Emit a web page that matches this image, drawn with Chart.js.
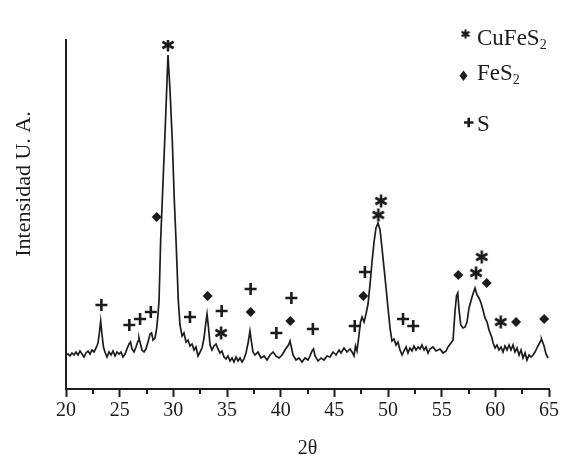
<!DOCTYPE html>
<html>
<head>
<meta charset="utf-8">
<script src="https://cdn.jsdelivr.net/npm/chart.js@4.4.1/dist/chart.umd.min.js"></script>
<style>
html, body { margin: 0; padding: 0; background: #fff; }
#grafica { display: block; }
</style>
</head>
<body>
<canvas id="grafica" width="562" height="458"></canvas>
<script>
const colorTinta = "#1c1c1c";
const fuente = "'Liberation Serif', 'Times New Roman', serif";

// difractograma: 2θ (grados) e intensidad (u. a.)
const dosTheta = [
    20.00, 20.19, 20.37, 20.56, 20.75, 20.93, 21.12, 21.30, 21.49, 21.68, 21.86, 22.05, 22.24, 22.42, 22.61, 22.80, 22.98,
    23.12, 23.23, 23.35, 23.49, 23.63, 23.82, 24.01, 24.19, 24.38, 24.57, 24.75, 24.94, 25.12, 25.31, 25.50, 25.68, 25.87,
    26.01, 26.15, 26.34, 26.52, 26.71, 26.80, 26.94, 27.08, 27.27, 27.45, 27.64, 27.83, 27.97, 28.11, 28.29, 28.43, 28.57,
    28.67, 28.82, 28.97, 29.20, 29.38, 29.50, 29.69, 29.90, 30.09, 30.25, 30.46, 30.62, 30.81, 30.99, 31.18, 31.37, 31.55,
    31.74, 31.93, 32.11, 32.30, 32.49, 32.67, 32.86, 33.00, 33.14, 33.28, 33.42, 33.60, 33.79, 33.98, 34.16, 34.35, 34.53,
    34.72, 34.91, 35.09, 35.28, 35.47, 35.65, 35.84, 36.03, 36.21, 36.40, 36.58, 36.77, 36.98, 37.14, 37.28, 37.42, 37.61,
    37.89, 38.17, 38.45, 38.73, 39.01, 39.29, 39.57, 39.85, 40.13, 40.40, 40.59, 40.73, 40.87, 41.01, 41.15, 41.43, 41.71,
    41.99, 42.27, 42.55, 42.73, 42.92, 43.06, 43.20, 43.48, 43.76, 44.04, 44.32, 44.60, 44.88, 45.16, 45.44, 45.62, 45.90,
    46.18, 46.46, 46.65, 46.83, 46.97, 47.11, 47.30, 47.44, 47.58, 47.77, 47.95, 48.14, 48.32, 48.51, 48.70, 48.88, 49.07,
    49.26, 49.44, 49.63, 49.82, 50.00, 50.19, 50.37, 50.56, 50.75, 50.93, 51.12, 51.31, 51.49, 51.68, 51.86, 52.05, 52.24,
    52.42, 52.61, 52.80, 52.98, 53.17, 53.36, 53.54, 53.73, 53.91, 54.19, 54.47, 54.85, 55.13, 55.41, 55.59, 55.87, 56.06,
    56.24, 56.38, 56.50, 56.62, 56.78, 56.99, 57.18, 57.36, 57.55, 57.83, 58.01, 58.11, 58.29, 58.48, 58.67, 58.85, 59.04,
    59.23, 59.41, 59.66, 59.79, 59.97, 60.16, 60.34, 60.53, 60.72, 60.90, 61.09, 61.28, 61.46, 61.65, 61.83, 62.02, 62.21,
    62.39, 62.58, 62.77, 62.95, 63.14, 63.32, 63.51, 63.70, 63.88, 64.07, 64.26, 64.30, 64.54, 64.72, 64.91
];
const intensidad = [
    34, 35, 33, 36, 34, 37, 34, 38, 35, 32, 36, 38, 35, 39, 37, 41, 46,
    57, 68, 55, 42, 37, 32, 37, 34, 38, 33, 37, 35, 37, 32, 35, 40, 45,
    47, 40, 37, 42, 48, 51, 45, 39, 37, 40, 47, 55, 56, 49, 51, 59, 74,
    89, 149, 189, 249, 299, 334, 299, 249, 189, 149, 89, 64, 53, 56, 47, 49, 43,
    45, 39, 42, 33, 37, 41, 51, 64, 75, 61, 44, 39, 43, 45, 40, 36, 38,
    32, 30, 33, 28, 31, 27, 32, 28, 31, 27, 30, 36, 47, 58, 47, 37, 34,
    37, 31, 33, 29, 34, 37, 33, 31, 34, 39, 42, 44, 48, 41, 34, 29, 31,
    27, 31, 29, 33, 38, 40, 33, 28, 31, 29, 33, 32, 37, 34, 39, 36, 41,
    37, 40, 37, 33, 43, 38, 54, 67, 72, 67, 75, 85, 104, 127, 147, 161, 166,
    159, 141, 121, 101, 81, 61, 48, 50, 44, 47, 39, 34, 38, 42, 36, 41, 38,
    43, 39, 42, 40, 44, 39, 42, 36, 40, 42, 38, 40, 36, 38, 42, 46, 49,
    77, 93, 96, 79, 64, 61, 62, 67, 81, 92, 98, 101, 94, 91, 86, 79, 71,
    67, 59, 52, 46, 41, 44, 39, 42, 37, 43, 39, 44, 39, 44, 37, 41, 34,
    39, 31, 36, 29, 34, 32, 34, 37, 41, 45, 49, 50, 43, 35, 31
];

// fases identificadas (posición 2θ y altura de la marca)
const cuFeS2X = [29.5, 34.45, 49.1, 49.35, 58.2, 58.73, 60.5];
const cuFeS2Y = [344, 56, 174, 188, 116, 132, 67];
const feS2X = [28.45, 33.2, 37.2, 40.9, 47.7, 56.55, 59.2, 61.93, 64.55];
const feS2Y = [172, 93, 77, 68, 93, 114, 106, 67, 70];
const azufreX = [23.3, 25.9, 26.9, 27.9, 31.55, 34.5, 37.2, 39.6, 41.0, 43.0, 46.9, 47.85, 51.4, 52.35];
const azufreY = [84, 64, 70, 77, 72, 78, 100, 56, 91, 60, 63, 117, 70, 63];

const etiquetasX = [20, 25, 30, 35, 40, 45, 50, 55, 60, 65];
const ticksMenores = [22.5, 27.5, 32.5, 37.5, 42.5, 47.5, 52.5, 57.5, 62.5];
const nombresFases = ["CuFeS", "FeS", "S"];
const subindicesFases = ["2", "2", ""];

function puntos(xs, ys) {
    return xs.map((x, i) => ({ x, y: ys[i] }));
}

function crearAsterisco(tam, grosor) {
    const lienzo = document.createElement("canvas");
    lienzo.width = tam;
    lienzo.height = tam;
    const ctx = lienzo.getContext("2d");
    ctx.strokeStyle = colorTinta;
    ctx.lineWidth = grosor;
    ctx.translate(tam / 2, tam / 2);
    const r = tam / 2 - 0.5;
    for (let i = 0; i < 3; i++) {
        const a = Math.PI / 2 + i * Math.PI / 3;
        ctx.beginPath();
        ctx.moveTo(Math.cos(a) * r, Math.sin(a) * r);
        ctx.lineTo(-Math.cos(a) * r, -Math.sin(a) * r);
        ctx.stroke();
    }
    return lienzo;
}

const asterisco = crearAsterisco(14, 2.6);
const asteriscoLeyenda = crearAsterisco(10, 2.2);

const marcasMenores = {
    id: "marcasMenores",
    afterDraw(chart) {
        const escala = chart.scales.x;
        const ctx = chart.ctx;
        ctx.save();
        ctx.strokeStyle = colorTinta;
        ctx.lineWidth = 2;
        ticksMenores.forEach(valor => {
            const px = Math.round(escala.getPixelForValue(valor));
            ctx.beginPath();
            ctx.moveTo(px, escala.top);
            ctx.lineTo(px, escala.top + 5);
            ctx.stroke();
        });
        ctx.restore();
    }
};

const tituloEjeY = {
    id: "tituloEjeY",
    afterDraw(chart) {
        const ctx = chart.ctx;
        ctx.save();
        ctx.translate(30, 184);
        ctx.rotate(-Math.PI / 2);
        ctx.font = `22px ${fuente}`;
        ctx.fillStyle = colorTinta;
        ctx.textAlign = "center";
        ctx.textBaseline = "alphabetic";
        ctx.fillText("Intensidad U. A.", 0, 0);
        ctx.restore();
    }
};

const leyendaFases = {
    id: "leyendaFases",
    afterDraw(chart) {
        const ctx = chart.ctx;
        ctx.save();
        ctx.fillStyle = colorTinta;
        ctx.strokeStyle = colorTinta;

        ctx.drawImage(asteriscoLeyenda, 465.5 - 5, 34 - 5);

        ctx.beginPath();
        ctx.moveTo(463.5, 70.5);
        ctx.lineTo(467.5, 75.8);
        ctx.lineTo(463.5, 81);
        ctx.lineTo(459.5, 75.8);
        ctx.closePath();
        ctx.fill();

        ctx.lineWidth = 2.6;
        ctx.beginPath();
        ctx.moveTo(464, 122.5);
        ctx.lineTo(473.5, 122.5);
        ctx.moveTo(468.7, 117.7);
        ctx.lineTo(468.7, 127.3);
        ctx.stroke();

        const lineas = [45, 80, 131];
        nombresFases.forEach((nombre, i) => {
            ctx.font = `23px ${fuente}`;
            ctx.textBaseline = "alphabetic";
            ctx.fillText(nombre, 477, lineas[i]);
            if (subindicesFases[i]) {
                const ancho = ctx.measureText(nombre).width;
                ctx.font = `14px ${fuente}`;
                ctx.fillText(subindicesFases[i], 477 + ancho, lineas[i] + 4);
            }
        });
        ctx.restore();
    }
};

new Chart(document.getElementById("grafica"), {
    type: "line",
    data: {
        datasets: [
            {
                label: "Difractograma",
                data: puntos(dosTheta, intensidad),
                borderColor: colorTinta,
                borderWidth: 1.7,
                pointRadius: 0,
                tension: 0,
                order: 2
            },
            {
                type: "scatter",
                label: "CuFeS2",
                data: puntos(cuFeS2X, cuFeS2Y),
                pointStyle: asterisco,
                pointRadius: 6,
                order: 1
            },
            {
                type: "scatter",
                label: "FeS2",
                data: puntos(feS2X, feS2Y),
                pointStyle: "rectRot",
                pointRadius: 5,
                backgroundColor: colorTinta,
                borderColor: colorTinta,
                borderWidth: 0,
                order: 1
            },
            {
                type: "scatter",
                label: "S",
                data: puntos(azufreX, azufreY),
                pointStyle: "cross",
                pointRadius: 6,
                borderColor: colorTinta,
                borderWidth: 2.6,
                order: 1
            }
        ]
    },
    options: {
        responsive: false,
        animation: false,
        events: [],
        layout: { padding: { top: 40, right: 13, left: 0, bottom: 0 } },
        plugins: { legend: { display: false }, tooltip: { enabled: false } },
        scales: {
            x: {
                type: "linear",
                min: 20,
                max: 65,
                afterFit: escala => { escala.height = 69; },
                afterBuildTicks: escala => { escala.ticks = etiquetasX.map(v => ({ value: v })); },
                grid: { drawOnChartArea: false, tickLength: 8, tickWidth: 2, tickColor: colorTinta },
                border: { color: colorTinta, width: 2 },
                ticks: { color: colorTinta, font: { family: fuente, size: 20 }, padding: 2, maxRotation: 0, autoSkip: false },
                title: { display: true, text: "2θ", color: colorTinta, font: { family: fuente, size: 20 }, padding: { top: 0, bottom: -3 } }
            },
            y: {
                min: 0,
                max: 349,
                afterFit: escala => { escala.width = 66; },
                ticks: { display: false },
                grid: { drawOnChartArea: false, drawTicks: false },
                border: { color: colorTinta, width: 2 }
            }
        }
    },
    plugins: [marcasMenores, tituloEjeY, leyendaFases]
});
</script>
</body>
</html>
